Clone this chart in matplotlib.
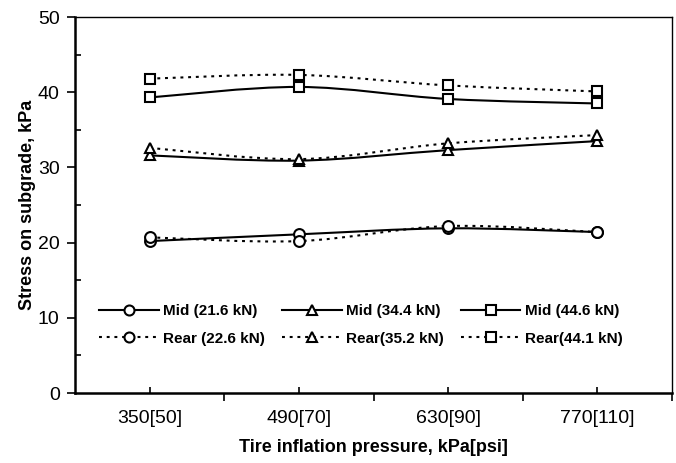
import numpy as np
import matplotlib
matplotlib.use("Agg")
import matplotlib.pyplot as plt
from matplotlib.path import Path
from matplotlib.patches import PathPatch
from matplotlib.lines import Line2D

plt.rcParams['font.family'] = ['Liberation Sans', 'DejaVu Sans']

categories = ["350[50]", "490[70]", "630[90]", "770[110]"]
mid_21_6 = [20.2, 21.1, 21.9, 21.4]
mid_34_4 = [31.6, 30.9, 32.3, 33.5]
mid_44_6 = [39.3, 40.7, 39.1, 38.5]
rear_22_6 = [20.7, 20.2, 22.2, 21.4]
rear_35_2 = [32.6, 31.1, 33.2, 34.3]
rear_44_1 = [41.8, 42.3, 40.9, 40.1]

series = [
    ("Mid (21.6 kN)", mid_21_6, 'o', 'solid'),
    ("Mid (34.4 kN)", mid_34_4, '^', 'solid'),
    ("Mid (44.6 kN)", mid_44_6, 's', 'solid'),
    ("Rear (22.6 kN)", rear_22_6, 'o', 'dotted'),
    ("Rear(35.2 kN)", rear_35_2, '^', 'dotted'),
    ("Rear(44.1 kN)", rear_44_1, 's', 'dotted'),
]

W, H = 676, 463
fig = plt.figure(figsize=(W / 100, H / 100), dpi=100)
L, R, T, B = 75, 672, 17, 393
ax = fig.add_axes([L / W, 1 - B / H, (R - L) / W, (B - T) / H])

x = np.arange(len(categories), dtype=float)
LW = 1.5
DOT = (0, (1.4, 2.3))


def smooth_path(xs, ys):
    pts = np.column_stack([xs, ys])
    n = len(pts)
    verts = [pts[0]]
    codes = [Path.MOVETO]
    for i in range(n - 1):
        p0 = pts[i - 1] if i > 0 else pts[i]
        p1 = pts[i]
        p2 = pts[i + 1]
        p3 = pts[i + 2] if i + 2 < n else pts[i + 1]
        c1 = p1 + (p2 - p0) / 6.0
        c2 = p2 - (p3 - p1) / 6.0
        verts += [c1, c2, p2]
        codes += [Path.CURVE4] * 3
    return Path(verts, codes)


handles = []
for label, vals, mk, style in series:
    ls = 'solid' if style == 'solid' else DOT
    patch = PathPatch(smooth_path(x, np.array(vals, dtype=float)), fill=False,
                      edgecolor='black', linewidth=LW, linestyle=ls, zorder=2)
    ax.add_patch(patch)
    ax.plot(x, vals, linestyle='none', marker=mk, markersize=7.8,
            markerfacecolor='white', markeredgecolor='black',
            markeredgewidth=1.5, zorder=3)
    handles.append(Line2D([], [], color='black', linewidth=LW, linestyle=ls,
                          marker=mk, markersize=7.2, markerfacecolor='white',
                          markeredgecolor='black', markeredgewidth=1.5))

ax.set_xlim(-0.5, len(categories) - 0.5)
ax.set_ylim(0, 50)

ax.set_xticks(x)
ax.set_xticklabels(categories)
ax.set_xticks(np.arange(0.5, len(categories), 1.0), minor=True)
ax.tick_params(axis='x', which='major', direction='in', length=4, width=1.2,
               pad=12, labelsize=14)
ax.tick_params(axis='x', which='minor', direction='out', length=6, width=1.2)

ax.set_yticks(np.arange(0, 51, 10))
ax.set_yticks(np.arange(5, 50, 10), minor=True)
ax.tick_params(axis='y', which='major', direction='out', length=6, width=1.2,
               pad=5, labelsize=14)
ax.tick_params(axis='y', which='minor', direction='in', length=4, width=1.2)

ax.spines['left'].set_linewidth(1.8)
ax.spines['bottom'].set_linewidth(1.8)
ax.spines['top'].set_linewidth(1.0)
ax.spines['right'].set_linewidth(1.0)

ax.set_xlabel("Tire inflation pressure, kPa[psi]", fontsize=13,
              fontweight='bold', labelpad=9)
ax.set_ylabel("Stress on subgrade, kPa", fontsize=13, fontweight='bold',
              labelpad=1)

order = [0, 3, 1, 4, 2, 5]
leg = ax.legend([handles[i] for i in order], [series[i][0] for i in order],
                ncol=3, loc='center', bbox_to_anchor=(0.479, 0.181),
                frameon=False, prop={'weight': 'bold', 'size': 11},
                handlelength=3.9, handletextpad=0.3, columnspacing=1.1,
                labelspacing=0.9, borderpad=0, borderaxespad=0)

fig.savefig("out.png", dpi=100)
